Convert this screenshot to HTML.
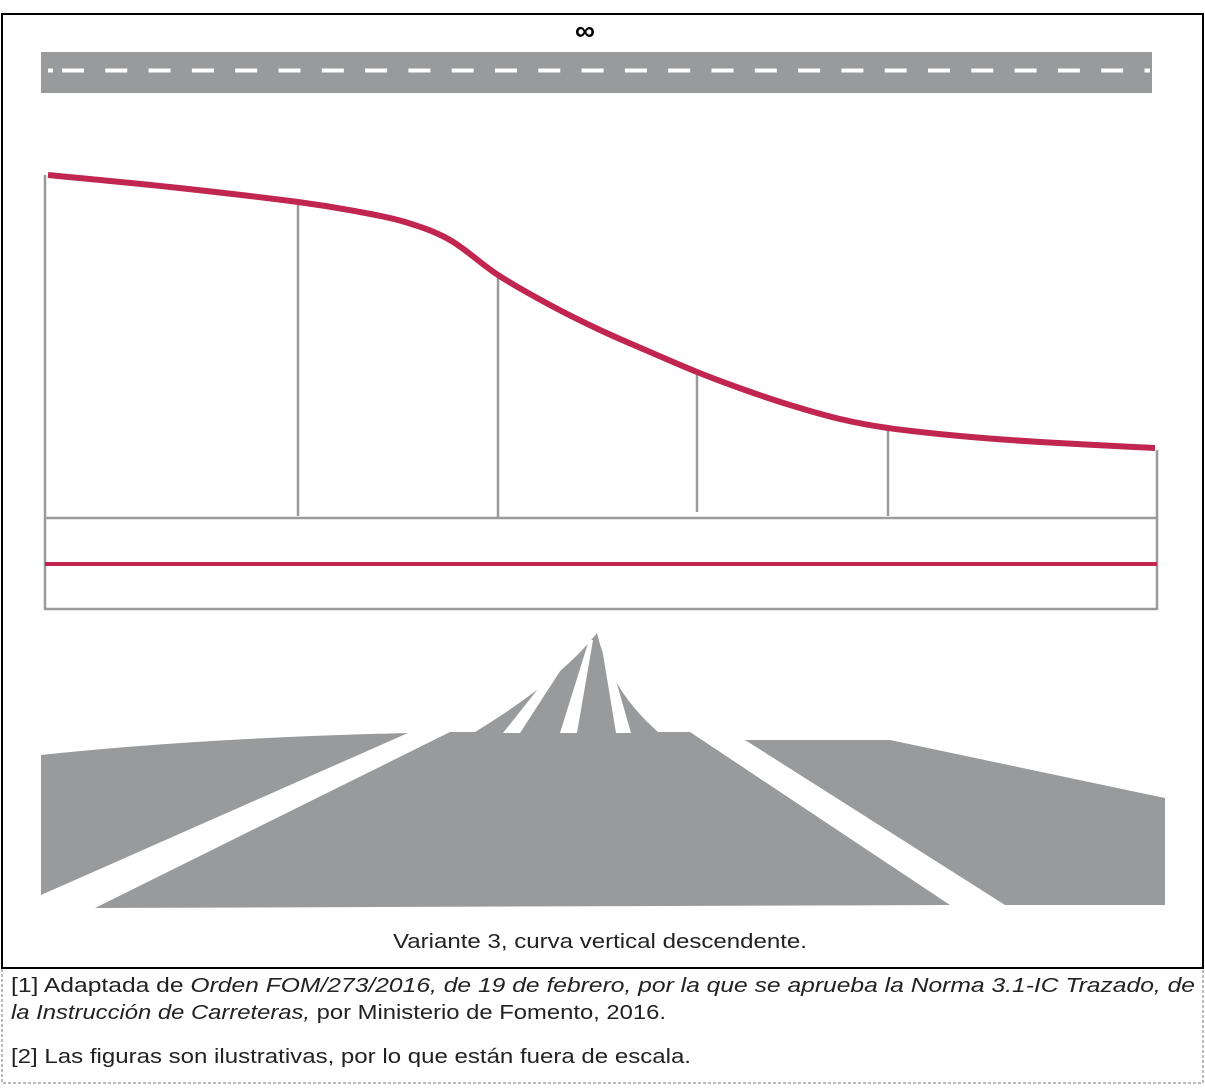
<!DOCTYPE html>
<html><head><meta charset="utf-8"><style>
body{margin:0;background:#fff;font-family:"Liberation Sans",sans-serif;}
#wrap{position:relative;width:1205px;height:1090px;overflow:hidden;}
</style></head><body><div id="wrap">
<svg width="1205" height="1090" style="position:absolute;left:0;top:0">
<rect x="2" y="14" width="1201" height="954" fill="none" stroke="#000" stroke-width="2"/>
<path d="M2 969 V1083 H1203 V969" fill="none" stroke="#777" stroke-dasharray="3,2" stroke-width="1"/>
<text x="585" y="40" font-size="28" font-weight="bold" text-anchor="middle" font-family="Liberation Sans, DejaVu Sans, sans-serif">∞</text>
<rect x="41" y="52" width="1111" height="41" fill="#999a9c"/>
<g id="dashes"></g>
<g stroke="#999a9c" stroke-width="2.5" fill="none">
<line x1="45" y1="175" x2="45" y2="610"/><line x1="1157" y1="450" x2="1157" y2="610"/>
<line x1="45" y1="518" x2="1157" y2="518"/><line x1="45" y1="609" x2="1157" y2="609"/>
<g id="verts"></g>
</g>
<line x1="45" y1="564" x2="1157" y2="564" stroke="#c0264f" stroke-width="4"/>
<path id="curve" fill="none" stroke="#c0264f" stroke-width="6" stroke-linejoin="round"/>
<g fill="#999a9c">
<path d="M41 755 Q200 738 408 733 L41 895 Z"/>
<path d="M450 732 L690 732 L950 905 L95 908 Z"/>
<path d="M745 740 L890 740 L1165 798 L1165 905 L1005 905 Z"/>
<path d="M475 732 Q560 680 597 633 Q610 690 658 732 Z"/>
</g>
<g fill="#fff">
<path d="M503 733 L520 733 L577 645 L572 646 Z"/>
<path d="M560 733 L577 733 L593 640 L589 640 Z"/>
<path d="M616 733 L631 733 L605 642 L601 642 Z"/>
</g>
<g font-size="20" fill="#222" font-family="Liberation Sans, sans-serif">
<text x="393" y="948" textLength="414" lengthAdjust="spacingAndGlyphs">Variante 3, curva vertical descendente.</text>
<text x="11" y="992" textLength="1184" lengthAdjust="spacingAndGlyphs">[1] Adaptada de <tspan font-style="italic">Orden FOM/273/2016, de 19 de febrero, por la que se aprueba la Norma 3.1-IC Trazado, de</tspan></text>
<text x="11" y="1019" textLength="655" lengthAdjust="spacingAndGlyphs"><tspan font-style="italic">la Instrucción de Carreteras,</tspan> por Ministerio de Fomento, 2016.</text>
<text x="11" y="1063" textLength="680" lengthAdjust="spacingAndGlyphs">[2] Las figuras son ilustrativas, por lo que están fuera de escala.</text>
</g>
</svg>
</div>
<script>
const curveX=[48,170,298,360,405,450,498,550,600,650,697,745,790,840,888,960,1040,1155];
const curveY=[175,187,202,212,222,240,275,305,330,352,372,390,405,419,428,436,442,448];
const verticalX=[298,498,697,888];
const verticalBottom=[516,517,512,516];
const ns="http://www.w3.org/2000/svg";
let d="M"+curveX[0]+" "+curveY[0];
for(let i=1;i<curveX.length;i++){
  const p0=[curveX[Math.max(i-2,0)],curveY[Math.max(i-2,0)]],p1=[curveX[i-1],curveY[i-1]],p2=[curveX[i],curveY[i]],p3=[curveX[Math.min(i+1,curveX.length-1)],curveY[Math.min(i+1,curveX.length-1)]];
  const c1=[p1[0]+(p2[0]-p0[0])/6,p1[1]+(p2[1]-p0[1])/6],c2=[p2[0]-(p3[0]-p1[0])/6,p2[1]-(p3[1]-p1[1])/6];
  d+=" C"+c1.join(" ")+" "+c2.join(" ")+" "+p2.join(" ");
}
document.getElementById("curve").setAttribute("d",d);
function yAt(x){for(let i=1;i<curveX.length;i++){if(x<=curveX[i]){const t=(x-curveX[i-1])/(curveX[i]-curveX[i-1]);return curveY[i-1]+t*(curveY[i]-curveY[i-1]);}}return curveY[curveY.length-1];}
const vg=document.getElementById("verts");
verticalX.forEach((x,i)=>{const l=document.createElementNS(ns,"line");
l.setAttribute("x1",x);l.setAttribute("x2",x);l.setAttribute("y1",yAt(x));l.setAttribute("y2",verticalBottom[i]);


vg.appendChild(l);});
const dg=document.getElementById("dashes");
for(let x=62;x<1152;x+=43.3){const r=document.createElementNS(ns,"rect");
r.setAttribute("x",x);r.setAttribute("y",68.5);r.setAttribute("width",Math.min(22,1150-x));r.setAttribute("height",4);r.setAttribute("fill","#fff");


dg.appendChild(r);}
const r0=document.createElementNS(ns,"rect");r0.setAttribute("x",48);r0.setAttribute("y",68.5);r0.setAttribute("width",5);r0.setAttribute("height",4);r0.setAttribute("fill","#fff");


dg.appendChild(r0);
</script>
</body></html>
